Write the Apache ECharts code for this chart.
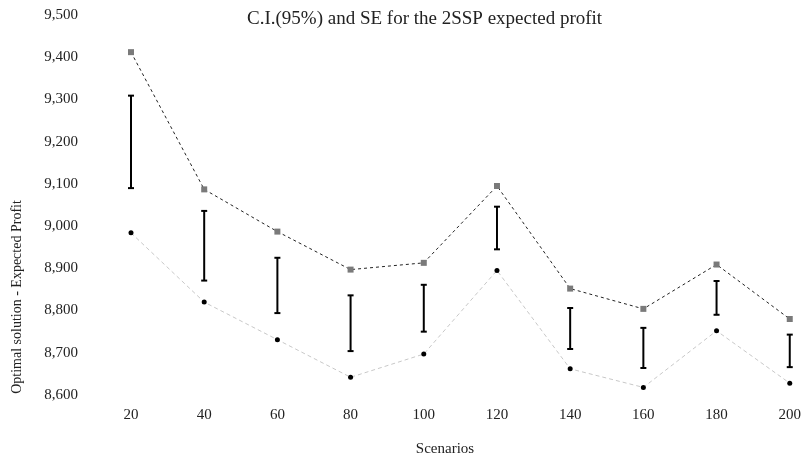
<!DOCTYPE html>
<html>
<head>
<meta charset="utf-8">
<script src="https://cdn.jsdelivr.net/npm/echarts@6/dist/echarts.min.js"></script>
<style>
  html, body { margin: 0; padding: 0; background: #fff; }
  #chart { width: 804px; height: 458px; }
</style>
</head>
<body>
<div id="chart"></div>
<script>
// scenarios on x axis
var scenarios = ['20', '40', '60', '80', '100', '120', '140', '160', '180', '200'];
// upper curve (squares) and lower curve (dots)
var upperProfit = [9412, 9087, 8987, 8897, 8913, 9095, 8852, 8804, 8909, 8780];
var lowerProfit = [8984, 8820, 8731, 8642, 8697, 8895, 8662, 8618, 8752, 8628];
// confidence interval ends
var ciHigh = [9309, 9036, 8925, 8836, 8861, 9046, 8806, 8759, 8870, 8743];
var ciLow = [9090, 8871, 8794, 8704, 8750, 8945, 8709, 8664, 8790, 8666];

var font = '"Liberation Serif", "Times New Roman", serif';

var ciData = scenarios.map(function (s, i) {
    return [i, ciLow[i], ciHigh[i]];
});

var chart = echarts.init(document.getElementById('chart'));

chart.setOption({
    animation: false,
    textStyle: { fontFamily: font },
    title: {
        text: 'C.I.(95%) and SE for the 2SSP expected profit',
        left: 242,
        top: 5,
        textStyle: { fontFamily: font, fontSize: 19, fontWeight: 'normal', color: '#222' }
    },
    grid: { left: 131, right: 12, top: 15, bottom: 63 },
    xAxis: {
        type: 'category',
        data: scenarios,
        boundaryGap: false,
        axisLine: { show: false },
        axisTick: { show: false },
        axisLabel: { margin: 13, fontSize: 15, fontFamily: font, color: '#222' }
    },
    yAxis: {
        type: 'value',
        min: 8600,
        max: 9500,
        interval: 100,
        splitLine: { show: false },
        axisLine: { show: false },
        axisTick: { show: false },
        axisLabel: {
            margin: 53,
            fontSize: 15,
            fontFamily: font,
            color: '#222',
            formatter: function (v) { return v.toLocaleString('en-US'); }
        }
    },
    graphic: [
        {
            type: 'text',
            x: 17,
            y: 297,
            rotation: Math.PI / 2,
            style: {
                text: 'Optimal solution - Expected Profit',
                font: '14px ' + font,
                fill: '#222',
                textAlign: 'center',
                textVerticalAlign: 'middle'
            }
        },
        {
            type: 'text',
            x: 445,
            y: 449,
            style: {
                text: 'Scenarios',
                font: '15px ' + font,
                fill: '#222',
                textAlign: 'center',
                textVerticalAlign: 'middle'
            }
        }
    ],
    series: [
        {
            type: 'line',
            data: upperProfit,
            symbol: 'rect',
            symbolSize: 6,
            itemStyle: { color: '#7a7a7a' },
            lineStyle: { color: '#222', width: 1, type: [3, 3] }
        },
        {
            type: 'line',
            data: lowerProfit,
            symbol: 'circle',
            symbolSize: 5,
            itemStyle: { color: '#000' },
            lineStyle: { color: '#c8c8c8', width: 1, type: [4, 3] }
        },
        {
            type: 'custom',
            data: ciData,
            renderItem: function (params, api) {
                var lo = api.coord([api.value(0), api.value(1)]);
                var hi = api.coord([api.value(0), api.value(2)]);
                var w = 3;
                var st = { stroke: '#000', lineWidth: 2 };
                return {
                    type: 'group',
                    children: [
                        { type: 'line', shape: { x1: hi[0], y1: hi[1], x2: lo[0], y2: lo[1] }, style: st },
                        { type: 'line', shape: { x1: hi[0] - w, y1: hi[1], x2: hi[0] + w, y2: hi[1] }, style: st },
                        { type: 'line', shape: { x1: lo[0] - w, y1: lo[1], x2: lo[0] + w, y2: lo[1] }, style: st }
                    ]
                };
            }
        }
    ]
});
</script>
</body>
</html>
